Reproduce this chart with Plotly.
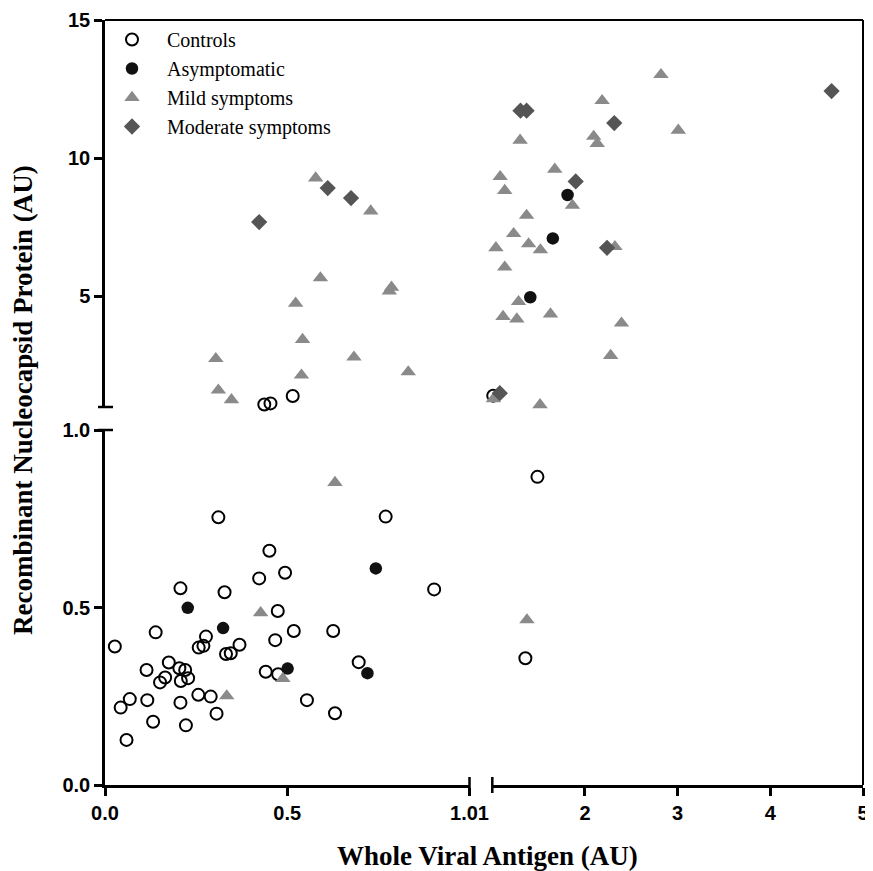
import plotly.graph_objects as go

# ---------------- data ----------------
controls_x = [0.311, 0.451, 0.494, 0.423, 0.207, 0.328, 0.474, 0.518, 0.139, 0.027,
              0.277, 0.257, 0.270, 0.369, 0.332, 0.345, 0.467, 0.175, 0.114, 0.204,
              0.220, 0.165, 0.151, 0.208, 0.228, 0.441, 0.475, 0.256, 0.290, 0.068,
              0.043, 0.116, 0.207, 0.306, 0.132, 0.222, 0.059, 0.626, 0.696, 0.554,
              0.631, 0.770, 0.903, 1.487, 1.357, 0.437, 0.454, 0.515, 1.01]
controls_y = [0.754, 0.660, 0.598, 0.582, 0.554, 0.543, 0.490, 0.434, 0.430, 0.390,
              0.418, 0.387, 0.392, 0.395, 0.369, 0.371, 0.408, 0.345, 0.324, 0.329,
              0.324, 0.303, 0.289, 0.293, 0.301, 0.319, 0.312, 0.254, 0.249, 0.242,
              0.218, 0.239, 0.232, 0.201, 0.178, 0.168, 0.127, 0.434, 0.346, 0.239,
              0.202, 0.756, 0.551, 0.868, 0.357, 1.09, 1.13, 1.40, 1.41]

asymp_x = [0.227, 0.324, 0.501, 0.743, 0.720, 1.812, 1.653, 1.410]
asymp_y = [0.499, 0.442, 0.328, 0.610, 0.315, 8.67, 7.10, 4.97]

mild_x = [0.578, 0.729, 0.591, 0.786, 0.780, 0.523, 0.542, 0.304, 0.683, 0.311,
          0.539, 0.347, 0.832,
          2.820, 2.185, 3.007, 1.300, 2.094, 2.132, 1.674, 1.085, 1.134, 1.865,
          1.370, 1.230, 1.039, 1.392, 1.519, 2.323, 1.134, 1.283, 1.116, 1.265,
          1.628, 2.394, 2.277, 1.012, 1.515,
          0.427, 0.334, 0.488, 0.631, 1.374]
mild_y = [9.28, 8.09, 5.67, 5.33, 5.19, 4.75, 3.44, 2.75, 2.80, 1.61,
          2.15, 1.26, 2.27,
          13.02, 12.08, 11.01, 10.65, 10.79, 10.53, 9.60, 9.33, 8.83, 8.29,
          7.93, 7.27, 6.76, 6.90, 6.68, 6.80, 6.06, 4.81, 4.27, 4.18,
          4.36, 4.03, 2.86, 1.29, 1.08,
          0.485, 0.251, 0.300, 0.852, 0.465]

moderate_x = [0.423, 0.611, 0.675, 4.661, 1.304, 1.370, 2.316, 1.900, 2.238, 1.081]
moderate_y = [7.69, 8.92, 8.56, 12.43, 11.72, 11.72, 11.27, 9.16, 6.76, 1.50]

group_names = ["Controls", "Asymptomatic", "Mild symptoms", "Moderate symptoms"]

x_break = 1.0   # x axis break
y_break = 1.0   # y axis break

x_left_ticks = [0.0, 0.5, 1.0]
x_left_labels = ["0.0", "0.5", "1.01"]
x_right_ticks = [2, 3, 4, 5]
y_low_ticks = [0.0, 0.5, 1.0]
y_low_labels = ["0.0", "0.5", "1.0"]
y_up_ticks = [5, 10, 15]

# ---------------- geometry ----------------
# the page body has an 8px margin, so the figure starts at (8, 8) on screen
OFF = 8
W, H = 873 - OFF, 871 - OFF
def fx(px):
    return (px - OFF) / W
def fy(py):
    return 1 - (py - OFF) / H

RIGHT = 863
TOP = 20
XL = [fx(105), fx(469.5)]
XR = [fx(492.3), fx(RIGHT)]
YLOW = [fy(785), fy(430)]
YUP = [fy(407), fy(TOP)]

styles = [
    dict(symbol="circle-open", size=12, color="black", line=dict(width=2, color="black")),
    dict(symbol="circle", size=12.5, color="#111111", line=dict(width=0)),
    dict(symbol="triangle-up", size=13.5, color="#8a8a8a", line=dict(width=0)),
    dict(symbol="diamond", size=12.5, color="#555555", line=dict(width=0)),
]
groups = [(controls_x, controls_y), (asymp_x, asymp_y), (mild_x, mild_y), (moderate_x, moderate_y)]

panels = [("x", "y"), ("x2", "y2"), ("x3", "y3"), ("x4", "y4")]

def panel_index(xv, yv):
    col = 0 if xv < x_break else 1
    row = 0 if yv < y_break else 1
    return row * 2 + col

fig = go.Figure()
NB = "\u00a0"
for gi, (name, (gx, gy), st) in enumerate(zip(group_names, groups, styles)):
    shown = False
    for pi, (xa, ya) in enumerate(panels):
        px_ = [a for a, b in zip(gx, gy) if panel_index(a, b) == pi]
        py_ = [b for a, b in zip(gx, gy) if panel_index(a, b) == pi]
        if not px_:
            continue
        fig.add_trace(go.Scatter(
            x=px_, y=py_, mode="markers", xaxis=xa, yaxis=ya,
            name=NB * 3 + name, legendgroup=name, showlegend=not shown,
            marker=st, cliponaxis=False, hoverinfo="x+y",
        ))
        shown = True

tickfont = dict(family="Liberation Sans, Arial, sans-serif", size=20, color="black", weight="bold")
hidden = dict(visible=False, showgrid=False, zeroline=False, automargin=False)
axline = dict(showline=True, linecolor="black", linewidth=2.5, ticks="outside",
              ticklen=8, tickwidth=2.5, tickcolor="black", showgrid=False, zeroline=False,
              tickfont=tickfont, automargin=False, ticklabeloverflow="allow")

fig.update_layout(
    template="none",
    width=W, height=H,
    margin=dict(l=0, r=0, t=0, b=0, autoexpand=False),
    paper_bgcolor="white", plot_bgcolor="rgba(0,0,0,0)",
    xaxis=dict(domain=XL, range=[0, x_break], anchor="y", tickmode="array",
               tickvals=x_left_ticks, ticktext=x_left_labels, **axline),
    yaxis=dict(domain=YLOW, range=[0, y_break], anchor="x", tickmode="array",
               tickvals=y_low_ticks, ticktext=y_low_labels, **axline),
    xaxis2=dict(domain=XR, range=[x_break, 5], anchor="y2", tickmode="array",
                tickvals=x_right_ticks, ticktext=[str(t) for t in x_right_ticks], **axline),
    yaxis2=dict(domain=YLOW, range=[0, y_break], anchor="x2", **hidden),
    xaxis3=dict(domain=XL, range=[0, x_break], anchor="y3", **hidden),
    yaxis3=dict(domain=YUP, range=[y_break, 15], anchor="x3", tickmode="array",
                tickvals=y_up_ticks, ticktext=[str(t) for t in y_up_ticks], **axline),
    xaxis4=dict(domain=XR, range=[x_break, 5], anchor="y4", **hidden),
    yaxis4=dict(domain=YUP, range=[y_break, 15], anchor="x4", **hidden),
    showlegend=True,
    legend=dict(x=fx(112), y=fy(20), xanchor="left", yanchor="top",
                font=dict(family="Liberation Serif, Times New Roman, serif", size=20, color="black"),
                bgcolor="rgba(0,0,0,0)", borderwidth=0, itemsizing="trace",
                tracegroupgap=0),
)

line = dict(color="black", width=2.5)
shapes = [
    # top and right frame
    dict(type="line", xref="paper", yref="paper", x0=fx(105), x1=fx(RIGHT), y0=fy(TOP), y1=fy(TOP), line=dict(color="black", width=2)),
    dict(type="line", xref="paper", yref="paper", x0=fx(RIGHT), x1=fx(RIGHT), y0=fy(TOP), y1=fy(785), line=dict(color="black", width=2)),
    # break caps on y axis
    dict(type="line", xref="paper", yref="paper", x0=fx(98), x1=fx(113), y0=fy(407), y1=fy(407), line=line),
    dict(type="line", xref="paper", yref="paper", x0=fx(98), x1=fx(113), y0=fy(430), y1=fy(430), line=line),
    # break caps on x axis
    dict(type="line", xref="paper", yref="paper", x0=fx(469.5), x1=fx(469.5), y0=fy(777), y1=fy(793), line=line),
    dict(type="line", xref="paper", yref="paper", x0=fx(492.3), x1=fx(492.3), y0=fy(777), y1=fy(793), line=line),
]
fig.update_layout(shapes=shapes)

title_font = dict(family="Liberation Serif, Times New Roman, serif", size=27, color="black", weight="bold")
fig.add_annotation(text="Whole Viral Antigen (AU)", xref="paper", yref="paper",
                   x=fx(487), y=fy(856), showarrow=False, font=title_font,
                   xanchor="center", yanchor="middle")
fig.add_annotation(text="Recombinant Nucleocapsid Protein (AU)", xref="paper", yref="paper",
                   x=fx(23), y=fy(400), showarrow=False, font=title_font, textangle=-90,
                   xanchor="center", yanchor="middle")

fig.write_html("out.html")
